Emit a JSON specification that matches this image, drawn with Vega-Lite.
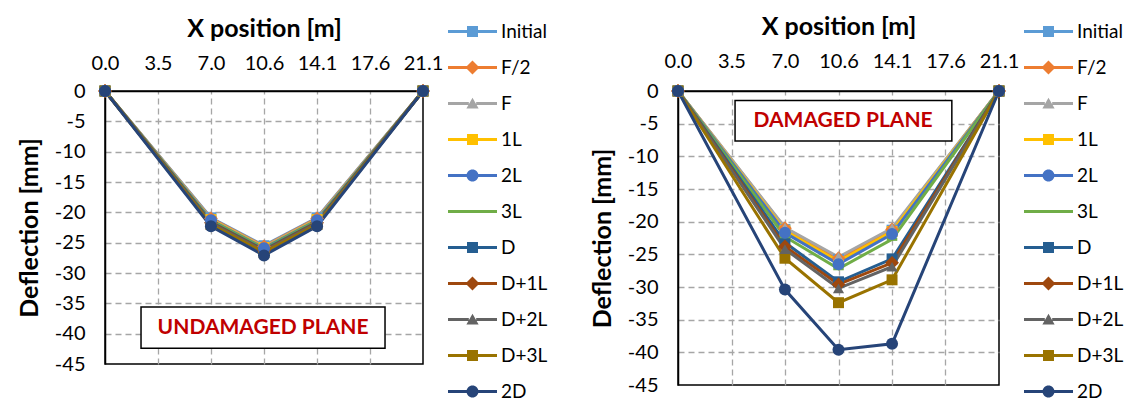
{
  "$schema": "https://vega.github.io/schema/vega-lite/v6.json",
  "padding": {"left": 16, "top": 6, "right": 0, "bottom": 0},
  "background": "white",
  "config": {
    "font": "Lato",
    "view": {"stroke": "black", "strokeWidth": 1.5},
    "axis": {"labelFont": "Lato", "labelFontSize": 20, "labelColor": "black", "titleFont": "Lato", "titleFontSize": 25, "titleFontWeight": "bold", "titleColor": "black", "ticks": false, "domainColor": "black", "domainWidth": 1.5, "gridColor": "#A6A6A6", "gridDash": [6, 4], "gridWidth": 1.3, "labelFlush": false, "labelOverlap": false},
    "legend": {"labelFont": "Lato", "labelFontSize": 19, "labelColor": "black"}
  },
  "datasets": {
    "undamaged": [
      {"s": "Initial", "x": 0, "y": 0}, {"s": "Initial", "x": 7.03, "y": -20.9}, {"s": "Initial", "x": 10.55, "y": -25.5}, {"s": "Initial", "x": 14.07, "y": -20.9}, {"s": "Initial", "x": 21.1, "y": 0},
      {"s": "F/2", "x": 0, "y": 0}, {"s": "F/2", "x": 7.03, "y": -21.0}, {"s": "F/2", "x": 10.55, "y": -25.6}, {"s": "F/2", "x": 14.07, "y": -21.0}, {"s": "F/2", "x": 21.1, "y": 0},
      {"s": "F", "x": 0, "y": 0}, {"s": "F", "x": 7.03, "y": -21.1}, {"s": "F", "x": 10.55, "y": -25.7}, {"s": "F", "x": 14.07, "y": -21.1}, {"s": "F", "x": 21.1, "y": 0},
      {"s": "1L", "x": 0, "y": 0}, {"s": "1L", "x": 7.03, "y": -21.2}, {"s": "1L", "x": 10.55, "y": -25.8}, {"s": "1L", "x": 14.07, "y": -21.2}, {"s": "1L", "x": 21.1, "y": 0},
      {"s": "2L", "x": 0, "y": 0}, {"s": "2L", "x": 7.03, "y": -21.3}, {"s": "2L", "x": 10.55, "y": -25.9}, {"s": "2L", "x": 14.07, "y": -21.3}, {"s": "2L", "x": 21.1, "y": 0},
      {"s": "3L", "x": 0, "y": 0}, {"s": "3L", "x": 7.03, "y": -21.4}, {"s": "3L", "x": 10.55, "y": -26.0}, {"s": "3L", "x": 14.07, "y": -21.4}, {"s": "3L", "x": 21.1, "y": 0},
      {"s": "D", "x": 0, "y": 0}, {"s": "D", "x": 7.03, "y": -21.6}, {"s": "D", "x": 10.55, "y": -26.2}, {"s": "D", "x": 14.07, "y": -21.6}, {"s": "D", "x": 21.1, "y": 0},
      {"s": "D+1L", "x": 0, "y": 0}, {"s": "D+1L", "x": 7.03, "y": -21.7}, {"s": "D+1L", "x": 10.55, "y": -26.3}, {"s": "D+1L", "x": 14.07, "y": -21.7}, {"s": "D+1L", "x": 21.1, "y": 0},
      {"s": "D+2L", "x": 0, "y": 0}, {"s": "D+2L", "x": 7.03, "y": -21.8}, {"s": "D+2L", "x": 10.55, "y": -26.4}, {"s": "D+2L", "x": 14.07, "y": -21.8}, {"s": "D+2L", "x": 21.1, "y": 0},
      {"s": "D+3L", "x": 0, "y": 0}, {"s": "D+3L", "x": 7.03, "y": -22.0}, {"s": "D+3L", "x": 10.55, "y": -26.6}, {"s": "D+3L", "x": 14.07, "y": -22.0}, {"s": "D+3L", "x": 21.1, "y": 0},
      {"s": "2D", "x": 0, "y": 0}, {"s": "2D", "x": 7.03, "y": -22.3}, {"s": "2D", "x": 10.55, "y": -27.1}, {"s": "2D", "x": 14.07, "y": -22.3}, {"s": "2D", "x": 21.1, "y": 0}
    ],
    "damaged": [
      {"s": "Initial", "x": 0, "y": 0}, {"s": "Initial", "x": 7.03, "y": -21.2}, {"s": "Initial", "x": 10.55, "y": -25.8}, {"s": "Initial", "x": 14.07, "y": -21.3}, {"s": "Initial", "x": 21.1, "y": 0},
      {"s": "F/2", "x": 0, "y": 0}, {"s": "F/2", "x": 7.03, "y": -21.0}, {"s": "F/2", "x": 10.55, "y": -25.6}, {"s": "F/2", "x": 14.07, "y": -21.2}, {"s": "F/2", "x": 21.1, "y": 0},
      {"s": "F", "x": 0, "y": 0}, {"s": "F", "x": 7.03, "y": -20.9}, {"s": "F", "x": 10.55, "y": -25.4}, {"s": "F", "x": 14.07, "y": -21.0}, {"s": "F", "x": 21.1, "y": 0},
      {"s": "1L", "x": 0, "y": 0}, {"s": "1L", "x": 7.03, "y": -21.4}, {"s": "1L", "x": 10.55, "y": -26.1}, {"s": "1L", "x": 14.07, "y": -21.5}, {"s": "1L", "x": 21.1, "y": 0},
      {"s": "2L", "x": 0, "y": 0}, {"s": "2L", "x": 7.03, "y": -21.7}, {"s": "2L", "x": 10.55, "y": -26.5}, {"s": "2L", "x": 14.07, "y": -21.9}, {"s": "2L", "x": 21.1, "y": 0},
      {"s": "3L", "x": 0, "y": 0}, {"s": "3L", "x": 7.03, "y": -22.3}, {"s": "3L", "x": 10.55, "y": -27.2}, {"s": "3L", "x": 14.07, "y": -22.7}, {"s": "3L", "x": 21.1, "y": 0},
      {"s": "D", "x": 0, "y": 0}, {"s": "D", "x": 7.03, "y": -23.2}, {"s": "D", "x": 10.55, "y": -29.2}, {"s": "D", "x": 14.07, "y": -25.7}, {"s": "D", "x": 21.1, "y": 0},
      {"s": "D+1L", "x": 0, "y": 0}, {"s": "D+1L", "x": 7.03, "y": -23.8}, {"s": "D+1L", "x": 10.55, "y": -29.6}, {"s": "D+1L", "x": 14.07, "y": -26.3}, {"s": "D+1L", "x": 21.1, "y": 0},
      {"s": "D+2L", "x": 0, "y": 0}, {"s": "D+2L", "x": 7.03, "y": -24.2}, {"s": "D+2L", "x": 10.55, "y": -30.2}, {"s": "D+2L", "x": 14.07, "y": -26.9}, {"s": "D+2L", "x": 21.1, "y": 0},
      {"s": "D+3L", "x": 0, "y": 0}, {"s": "D+3L", "x": 7.03, "y": -25.6}, {"s": "D+3L", "x": 10.55, "y": -32.4}, {"s": "D+3L", "x": 14.07, "y": -28.9}, {"s": "D+3L", "x": 21.1, "y": 0},
      {"s": "2D", "x": 0, "y": 0}, {"s": "2D", "x": 7.03, "y": -30.4}, {"s": "2D", "x": 10.55, "y": -39.6}, {"s": "2D", "x": 14.07, "y": -38.7}, {"s": "2D", "x": 21.1, "y": 0}
    ],
    "boxL": [{"x": 2.39, "x2": 18.58, "y": -35.6, "y2": -42.4}],
    "textL": [{"x": 10.49, "y": -39.0, "label": "UNDAMAGED PLANE"}],
    "boxR": [{"x": 3.75, "x2": 18.0, "y": -1.44, "y2": -7.66}],
    "textR": [{"x": 10.85, "y": -4.6, "label": "DAMAGED PLANE"}]
  },
  "resolve": {"scale": {"color": "independent", "fill": "independent", "shape": "independent"}},
  "spacing": 255,
  "bounds": "flush",
  "hconcat": [
    {
      "width": 318,
      "height": 273,
      "data": {"name": "undamaged"},
      "encoding": {
        "x": {"field": "x", "type": "quantitative", "scale": {"domain": [0, 21.1], "nice": false, "zero": false}, "axis": {"orient": "top", "title": "X position [m]", "values": [0, 3.5167, 7.0333, 10.55, 14.0667, 17.5833, 21.1], "format": ".1f", "labelPadding": 18, "titlePadding": 12, "gridOpacity": {"condition": {"test": "datum.value < 0.1 || datum.value > 21", "value": 0}, "value": 1}}},
        "y": {"field": "y", "type": "quantitative", "scale": {"domain": [-45, 0], "nice": false, "zero": false}, "axis": {"title": "Deflection [mm]", "values": [0, -5, -10, -15, -20, -25, -30, -35, -40, -45], "labelExpr": "datum.value < 0 ? '-' + abs(datum.value) : '' + datum.value", "labelPadding": 20, "titlePadding": 12, "gridOpacity": {"condition": {"test": "datum.value > -0.1 || datum.value < -44.9", "value": 0}, "value": 1}}}
      },
      "layer": [
        {"data": {"name": "boxL"}, "mark": {"type": "rect", "fill": "white", "stroke": "black", "strokeWidth": 1.5}, "encoding": {"x2": {"field": "x2"}, "y2": {"field": "y2"}}},
        {"data": {"name": "textL"}, "mark": {"type": "text", "color": "#C00000", "fontSize": 21, "fontWeight": "bold", "font": "Lato"}, "encoding": {"text": {"field": "label"}}},
        {"mark": {"type": "line", "strokeWidth": 3}, "encoding": {"color": {"field": "s", "type": "nominal", "scale": {"domain": ["2D", "D+3L", "D+2L", "D+1L", "D", "3L", "2L", "1L", "F", "F/2", "Initial"], "range": ["#264478", "#997300", "#636363", "#9E480E", "#255E91", "#70AD47", "#4472C4", "#FFC000", "#A5A5A5", "#ED7D31", "#5B9BD5"]}, "legend": null}}},
        {"transform": [{"filter": {"field": "s", "oneOf": ["Initial", "1L", "D", "D+3L"]}}], "mark": {"type": "point", "filled": true, "opacity": 1, "shape": "square", "size": 120}, "encoding": {"color": {"field": "s", "type": "nominal", "legend": null}}},
        {"transform": [{"filter": {"field": "s", "oneOf": ["F/2", "D+1L"]}}], "mark": {"type": "point", "filled": true, "opacity": 1, "shape": "diamond", "size": 190}, "encoding": {"color": {"field": "s", "type": "nominal", "legend": null}}},
        {"transform": [{"filter": {"field": "s", "oneOf": ["F", "D+2L"]}}], "mark": {"type": "point", "filled": true, "opacity": 1, "shape": "triangle-up", "size": 125}, "encoding": {"color": {"field": "s", "type": "nominal", "legend": null}}},
        {"transform": [{"filter": {"field": "s", "oneOf": ["3L"]}}], "mark": {"type": "point", "filled": true, "opacity": 1, "shape": "M-1,-0.3H1V0.3H-1Z", "size": 110}, "encoding": {"color": {"field": "s", "type": "nominal", "legend": null}}},
        {"transform": [{"filter": {"field": "s", "oneOf": ["2L", "2D"]}}], "mark": {"type": "point", "filled": true, "opacity": 1, "shape": "circle", "size": 144}, "encoding": {"color": {"field": "s", "type": "nominal", "legend": null}}},
        {"mark": {"type": "point", "opacity": 0, "strokeWidth": 0, "size": 2401}, "encoding": {
          "fill": {"field": "s", "type": "nominal", "scale": {"domain": ["Initial", "F/2", "F", "1L", "2L", "3L", "D", "D+1L", "D+2L", "D+3L", "2D"], "range": ["#5B9BD5", "#ED7D31", "#A5A5A5", "#FFC000", "#4472C4", "#70AD47", "#255E91", "#9E480E", "#636363", "#997300", "#264478"]}, "legend": {"title": null, "orient": "none", "legendX": 343, "legendY": -84, "symbolSize": 2401, "symbolOpacity": 1, "symbolStrokeWidth": 0, "labelFontSize": 19, "labelOffset": 4, "rowPadding": 1, "padding": 0}},
          "shape": {"field": "s", "type": "nominal", "scale": {"domain": ["Initial", "F/2", "F", "1L", "2L", "3L", "D", "D+1L", "D+2L", "D+3L", "2D"], "range": [
            "M-1,-0.061H-0.2V0.061H-1Z M-0.224,-0.224H0.224V0.224H-0.224Z M0.2,-0.061H1V0.061H0.2Z",
            "M-1,-0.061H-0.2V0.061H-1Z M0,-0.286L0.286,0L0,0.286L-0.286,0Z M0.2,-0.061H1V0.061H0.2Z",
            "M-1,-0.061H-0.15V0.061H-1Z M0,-0.23L0.25,0.2L-0.25,0.2Z M0.15,-0.061H1V0.061H0.15Z",
            "M-1,-0.061H-0.2V0.061H-1Z M-0.224,-0.224H0.224V0.224H-0.224Z M0.2,-0.061H1V0.061H0.2Z",
            "M-1,-0.061H-0.2V0.061H-1Z M-0.245,0A0.245,0.245 0 1,1 0.245,0A0.245,0.245 0 1,1 -0.245,0Z M0.2,-0.061H1V0.061H0.2Z",
            "M-1,-0.061H1V0.061H-1Z",
            "M-1,-0.061H-0.2V0.061H-1Z M-0.224,-0.224H0.224V0.224H-0.224Z M0.2,-0.061H1V0.061H0.2Z",
            "M-1,-0.061H-0.2V0.061H-1Z M0,-0.286L0.286,0L0,0.286L-0.286,0Z M0.2,-0.061H1V0.061H0.2Z",
            "M-1,-0.061H-0.15V0.061H-1Z M0,-0.23L0.25,0.2L-0.25,0.2Z M0.15,-0.061H1V0.061H0.15Z",
            "M-1,-0.061H-0.2V0.061H-1Z M-0.224,-0.224H0.224V0.224H-0.224Z M0.2,-0.061H1V0.061H0.2Z",
            "M-1,-0.061H-0.2V0.061H-1Z M-0.245,0A0.245,0.245 0 1,1 0.245,0A0.245,0.245 0 1,1 -0.245,0Z M0.2,-0.061H1V0.061H0.2Z"
          ]}, "legend": {"title": null, "orient": "none", "legendX": 343, "legendY": -84, "symbolSize": 2401, "symbolOpacity": 1, "symbolStrokeWidth": 0, "labelFontSize": 19, "labelOffset": 4, "rowPadding": 1, "padding": 0}}
        }}
      ]
    },
    {
      "width": 321,
      "height": 294,
      "data": {"name": "damaged"},
      "encoding": {
        "x": {"field": "x", "type": "quantitative", "scale": {"domain": [0, 21.1], "nice": false, "zero": false}, "axis": {"orient": "top", "title": "X position [m]", "values": [0, 3.5167, 7.0333, 10.55, 14.0667, 17.5833, 21.1], "format": ".1f", "labelPadding": 20, "titlePadding": 12, "gridOpacity": {"condition": {"test": "datum.value < 0.1 || datum.value > 21", "value": 0}, "value": 1}}},
        "y": {"field": "y", "type": "quantitative", "scale": {"domain": [-45, 0], "nice": false, "zero": false}, "axis": {"title": "Deflection [mm]", "values": [0, -5, -10, -15, -20, -25, -30, -35, -40, -45], "labelExpr": "datum.value < 0 ? '-' + abs(datum.value) : '' + datum.value", "labelPadding": 20, "titlePadding": 12, "gridOpacity": {"condition": {"test": "datum.value > -0.1 || datum.value < -44.9", "value": 0}, "value": 1}}}
      },
      "layer": [
        {"data": {"name": "boxR"}, "mark": {"type": "rect", "fill": "white", "stroke": "black", "strokeWidth": 1.5}, "encoding": {"x2": {"field": "x2"}, "y2": {"field": "y2"}}},
        {"data": {"name": "textR"}, "mark": {"type": "text", "color": "#C00000", "fontSize": 21, "fontWeight": "bold", "font": "Lato"}, "encoding": {"text": {"field": "label"}}},
        {"mark": {"type": "line", "strokeWidth": 3}, "encoding": {"color": {"field": "s", "type": "nominal", "scale": {"domain": ["2D", "D+3L", "D+2L", "D+1L", "D", "3L", "2L", "1L", "F", "F/2", "Initial"], "range": ["#264478", "#997300", "#636363", "#9E480E", "#255E91", "#70AD47", "#4472C4", "#FFC000", "#A5A5A5", "#ED7D31", "#5B9BD5"]}, "legend": null}}},
        {"transform": [{"filter": {"field": "s", "oneOf": ["Initial", "1L", "D", "D+3L"]}}], "mark": {"type": "point", "filled": true, "opacity": 1, "shape": "square", "size": 120}, "encoding": {"color": {"field": "s", "type": "nominal", "legend": null}}},
        {"transform": [{"filter": {"field": "s", "oneOf": ["F/2", "D+1L"]}}], "mark": {"type": "point", "filled": true, "opacity": 1, "shape": "diamond", "size": 190}, "encoding": {"color": {"field": "s", "type": "nominal", "legend": null}}},
        {"transform": [{"filter": {"field": "s", "oneOf": ["F", "D+2L"]}}], "mark": {"type": "point", "filled": true, "opacity": 1, "shape": "triangle-up", "size": 125}, "encoding": {"color": {"field": "s", "type": "nominal", "legend": null}}},
        {"transform": [{"filter": {"field": "s", "oneOf": ["3L"]}}], "mark": {"type": "point", "filled": true, "opacity": 1, "shape": "M-1,-0.3H1V0.3H-1Z", "size": 110}, "encoding": {"color": {"field": "s", "type": "nominal", "legend": null}}},
        {"transform": [{"filter": {"field": "s", "oneOf": ["2L", "2D"]}}], "mark": {"type": "point", "filled": true, "opacity": 1, "shape": "circle", "size": 144}, "encoding": {"color": {"field": "s", "type": "nominal", "legend": null}}},
        {"mark": {"type": "point", "opacity": 0, "strokeWidth": 0, "size": 2401}, "encoding": {
          "fill": {"field": "s", "type": "nominal", "scale": {"domain": ["Initial", "F/2", "F", "1L", "2L", "3L", "D", "D+1L", "D+2L", "D+3L", "2D"], "range": ["#5B9BD5", "#ED7D31", "#A5A5A5", "#FFC000", "#4472C4", "#70AD47", "#255E91", "#9E480E", "#636363", "#997300", "#264478"]}, "legend": {"title": null, "orient": "none", "legendX": 346, "legendY": -84, "symbolSize": 2401, "symbolOpacity": 1, "symbolStrokeWidth": 0, "labelFontSize": 19, "labelOffset": 4, "rowPadding": 1, "padding": 0}},
          "shape": {"field": "s", "type": "nominal", "scale": {"domain": ["Initial", "F/2", "F", "1L", "2L", "3L", "D", "D+1L", "D+2L", "D+3L", "2D"], "range": [
            "M-1,-0.061H-0.2V0.061H-1Z M-0.224,-0.224H0.224V0.224H-0.224Z M0.2,-0.061H1V0.061H0.2Z",
            "M-1,-0.061H-0.2V0.061H-1Z M0,-0.286L0.286,0L0,0.286L-0.286,0Z M0.2,-0.061H1V0.061H0.2Z",
            "M-1,-0.061H-0.15V0.061H-1Z M0,-0.23L0.25,0.2L-0.25,0.2Z M0.15,-0.061H1V0.061H0.15Z",
            "M-1,-0.061H-0.2V0.061H-1Z M-0.224,-0.224H0.224V0.224H-0.224Z M0.2,-0.061H1V0.061H0.2Z",
            "M-1,-0.061H-0.2V0.061H-1Z M-0.245,0A0.245,0.245 0 1,1 0.245,0A0.245,0.245 0 1,1 -0.245,0Z M0.2,-0.061H1V0.061H0.2Z",
            "M-1,-0.061H1V0.061H-1Z",
            "M-1,-0.061H-0.2V0.061H-1Z M-0.224,-0.224H0.224V0.224H-0.224Z M0.2,-0.061H1V0.061H0.2Z",
            "M-1,-0.061H-0.2V0.061H-1Z M0,-0.286L0.286,0L0,0.286L-0.286,0Z M0.2,-0.061H1V0.061H0.2Z",
            "M-1,-0.061H-0.15V0.061H-1Z M0,-0.23L0.25,0.2L-0.25,0.2Z M0.15,-0.061H1V0.061H0.15Z",
            "M-1,-0.061H-0.2V0.061H-1Z M-0.224,-0.224H0.224V0.224H-0.224Z M0.2,-0.061H1V0.061H0.2Z",
            "M-1,-0.061H-0.2V0.061H-1Z M-0.245,0A0.245,0.245 0 1,1 0.245,0A0.245,0.245 0 1,1 -0.245,0Z M0.2,-0.061H1V0.061H0.2Z"
          ]}, "legend": {"title": null, "orient": "none", "legendX": 346, "legendY": -84, "symbolSize": 2401, "symbolOpacity": 1, "symbolStrokeWidth": 0, "labelFontSize": 19, "labelOffset": 4, "rowPadding": 1, "padding": 0}}
        }}
      ]
    }
  ]
}
